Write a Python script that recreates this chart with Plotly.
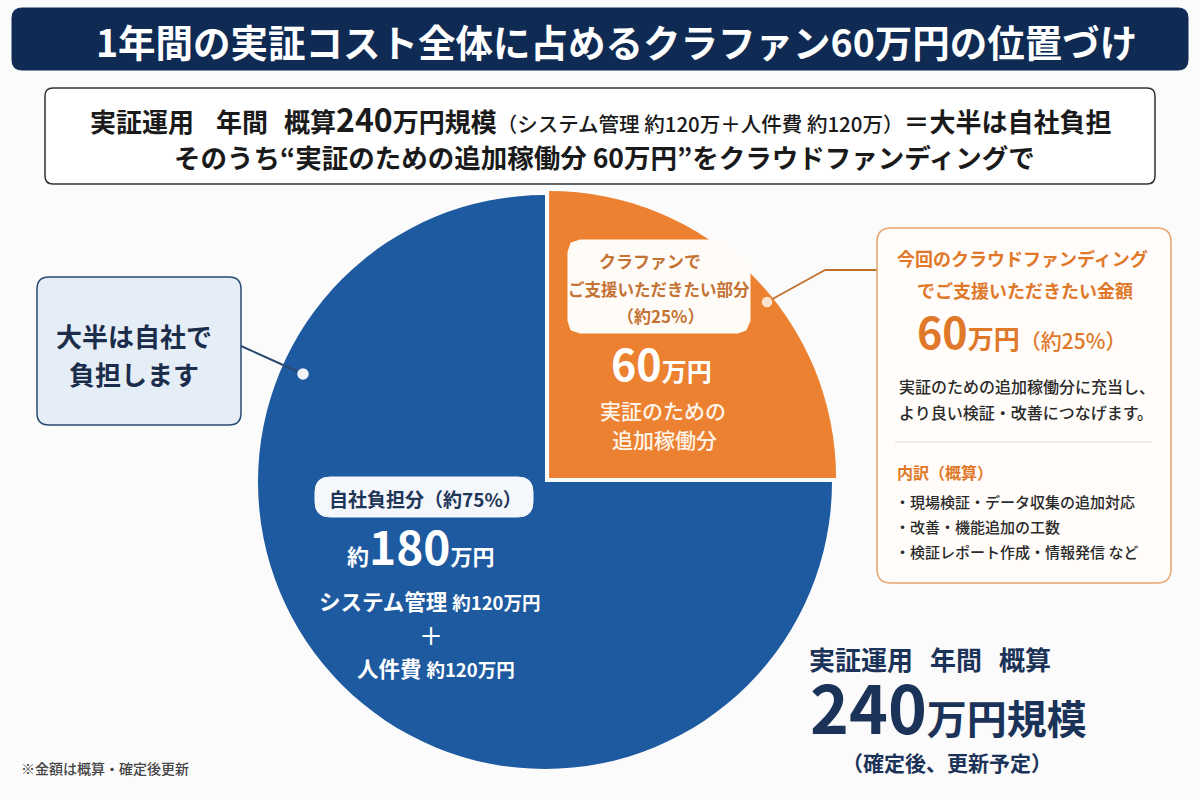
import plotly.graph_objects as go

W, H = 1200, 800
FONT = "Noto Sans CJK JP"

# ---- data ----
slice_labels = ["クラファンでご支援いただきたい部分", "自社負担分"]
slice_values = [60, 180]          # 万円
slice_colors = ["#EC8231", "#1E5AA0"]
slice_pull = [0.02, 0.0]

NAVY = "#1B3358"
ORANGE_TXT = "#E0782A"
BROWN_TXT = "#C47334"


def X(px):
    return px / W


def Y(py):
    return 1 - py / H


def rr_path(x0, y0, x1, y1, r):
    pts = [
        ("M", [(x0 + r, y0)]),
        ("L", [(x1 - r, y0)]),
        ("Q", [(x1, y0), (x1, y0 + r)]),
        ("L", [(x1, y1 - r)]),
        ("Q", [(x1, y1), (x1 - r, y1)]),
        ("L", [(x0 + r, y1)]),
        ("Q", [(x0, y1), (x0, y1 - r)]),
        ("L", [(x0, y0 + r)]),
        ("Q", [(x0, y0), (x0 + r, y0)]),
    ]
    s = ""
    for cmd, ps in pts:
        s += cmd + " " + " ".join(f"{X(a):.5f},{Y(b):.5f}" for a, b in ps) + " "
    return s + "Z"


def poly_path(points):
    s = "M " + " L ".join(f"{X(a):.5f},{Y(b):.5f}" for a, b in points)
    return s + " Z"


shapes = []
annotations = []


def box(x0, y0, x1, y1, r, fill, line, lw):
    shapes.append(dict(type="path", path=rr_path(x0, y0, x1, y1, r), xref="paper", yref="paper",
                       fillcolor=fill, line=dict(color=line, width=lw), layer="above"))


def seg(pts, color, width):
    for (a, b), (c, d) in zip(pts[:-1], pts[1:]):
        shapes.append(dict(type="line", x0=X(a), y0=Y(b), x1=X(c), y1=Y(d), xref="paper", yref="paper",
                           line=dict(color=color, width=width), layer="above"))


def dot(x, y, r, fill, line):
    shapes.append(dict(type="circle", x0=X(x - r), x1=X(x + r), y0=Y(y - r), y1=Y(y + r),
                       xref="paper", yref="paper", fillcolor=fill, line=dict(color=line, width=1.5),
                       layer="above"))


def ann(x, y, text, size, color, xanchor="center", weight="bold"):
    annotations.append(dict(x=X(x), y=Y(y), xref="paper", yref="paper", text=text, showarrow=False,
                            xanchor=xanchor, yanchor="middle",
                            font=dict(family=FONT, size=size, color=color, weight=weight)))


def sp(t, size, weight=None):
    st = f"font-size:{size}px"
    if weight:
        st += f";font-weight:{weight}"
    return f'<span style="{st}">{t}</span>'


# ---- pie ----
R = 287
CX, CY = 545, 482
half = R * (2 + 2 * max(slice_pull)) / 2
fig = go.Figure(go.Pie(
    labels=slice_labels, values=slice_values, sort=False, direction="clockwise", rotation=0,
    pull=slice_pull, marker=dict(colors=slice_colors, line=dict(width=0)),
    textinfo="none", hoverinfo="skip", showlegend=False,
    domain=dict(x=[X(CX - half), X(CX + half)], y=[Y(CY + half), Y(CY - half)]),
))

# ---- title bar ----
box(12, 8, 1188, 70, 10, "#0F2B54", "#0F2B54", 1)
ann(616, 40, "1年間の実証コスト全体に占めるクラファン60万円の位置づけ", 37.5, "white")

# ---- summary box ----
box(45, 88, 1155, 184, 8, "white", "#333333", 1.5)
ann(600, 118,
    "実証運用" + sp("　", 22) + "年間" + sp("　", 16) + "概算" + sp("240", 32) + "万円規模" +
    sp("（システム管理 約120万＋人件費 約120万）", 20.5, 500) + "＝大半は自社負担",
    26, "#1A1A1A")
ann(604, 156, "そのうち“実証のための追加稼働分 60万円”をクラウドファンディングで", 26.5, "#1A1A1A")

# ---- left callout ----
seg([(241, 346), (303, 374)], "#2B4A70", 2)
box(37, 277, 241, 425, 12, "#E5EDF7", "#2B4A70", 1.5)
ann(134, 336, "大半は自社で", 26, "#1B2D4A")
ann(134, 373, "負担します", 26, "#1B2D4A")
dot(303, 374, 5, "#F2F5FA", "#F2F5FA")

# ---- orange slice labels ----
shapes.append(dict(type="path",
                   path=poly_path([(580, 240), (722, 240), (750, 262), (750, 321), (746, 330), (738, 333),
                                   (580, 333), (571, 330), (568, 321), (568, 252), (571, 243)]),
                   xref="paper", yref="paper", fillcolor="#FFFBF7", line=dict(color="#FFFBF7", width=1),
                   layer="above"))
ann(650, 261, "クラファンで", 17, BROWN_TXT)
ann(659, 289, "ご支援いただきたい部分", 16.5, BROWN_TXT)
ann(660, 315, "（約25%）", 17, BROWN_TXT)
ann(661, 362, sp("60", 43) + "万円", 25, "white")
ann(663, 410, "実証のための", 21, "#FFF4EA", weight=500)
ann(664, 439, "追加稼働分", 21, "#FFF4EA", weight=500)

seg([(767, 302), (825, 270), (877, 270)], "#C0712E", 1.8)
dot(767, 302, 4.5, "#FBE3CF", "#FBE3CF")

# ---- right info box ----
box(877, 228, 1171, 583, 14, "#FFFCF9", "#E6A46E", 1.5)
ann(1022, 258, "今回のクラウドファンディング", 18, ORANGE_TXT)
ann(1025, 290, "でご支援いただきたい金額", 18, ORANGE_TXT)
ann(1021, 330, sp("60", 43) + "万円" + sp("（約25%）", 21, 500), 26, ORANGE_TXT)
ann(897, 386, "実証のための追加稼働分に充当し、", 16, "#2A2A2A", xanchor="left", weight=500)
ann(897, 412, "より良い検証・改善につなげます。", 16, "#2A2A2A", xanchor="left", weight=500)
seg([(895, 442), (1152, 442)], "#DDDDDD", 1.2)
ann(895, 472, "内訳（概算）", 16, ORANGE_TXT, xanchor="left")
ann(893, 501, "・現場検証・データ収集の追加対応", 15, "#2A2A2A", xanchor="left", weight=500)
ann(893, 526, "・改善・機能追加の工数", 15, "#2A2A2A", xanchor="left", weight=500)
ann(893, 551, "・検証レポート作成・情報発信 など", 15, "#2A2A2A", xanchor="left", weight=500)

# ---- blue slice labels ----
box(315, 477, 533, 517, 15, "#F4F7FB", "#F4F7FB", 1)
ann(425, 498, "自社負担分（約75%）", 19, "#1D3557")
ann(420, 545, "約" + sp("180", 46) + "万円", 22, "white")
ann(430, 600, "システム管理 " + sp("約120万円", 18.5), 21.5, "white")
ann(431, 634, "＋", 24, "white", weight=500)
ann(436, 667, "人件費 " + sp("約120万円", 18.5), 21.5, "white")

# ---- bottom right totals ----
ann(807, 658, "実証運用" + sp("　", 17) + "年間" + sp("　", 17) + "概算", 26, NAVY, xanchor="left")
ann(808, 705, sp("240", 66) + "万円規模", 40, NAVY, xanchor="left")
ann(947, 762, "（確定後、更新予定）", 21, NAVY)

# ---- footnote ----
ann(19, 768, "※金額は概算・確定後更新", 14, "#444444", xanchor="left", weight=500)

fig.update_layout(
    width=W, height=H, margin=dict(l=0, r=0, t=0, b=0),
    paper_bgcolor="#FBFBFC", plot_bgcolor="#FBFBFC",
    shapes=shapes, annotations=annotations, showlegend=False,
)
fig.write_html("out.html")
